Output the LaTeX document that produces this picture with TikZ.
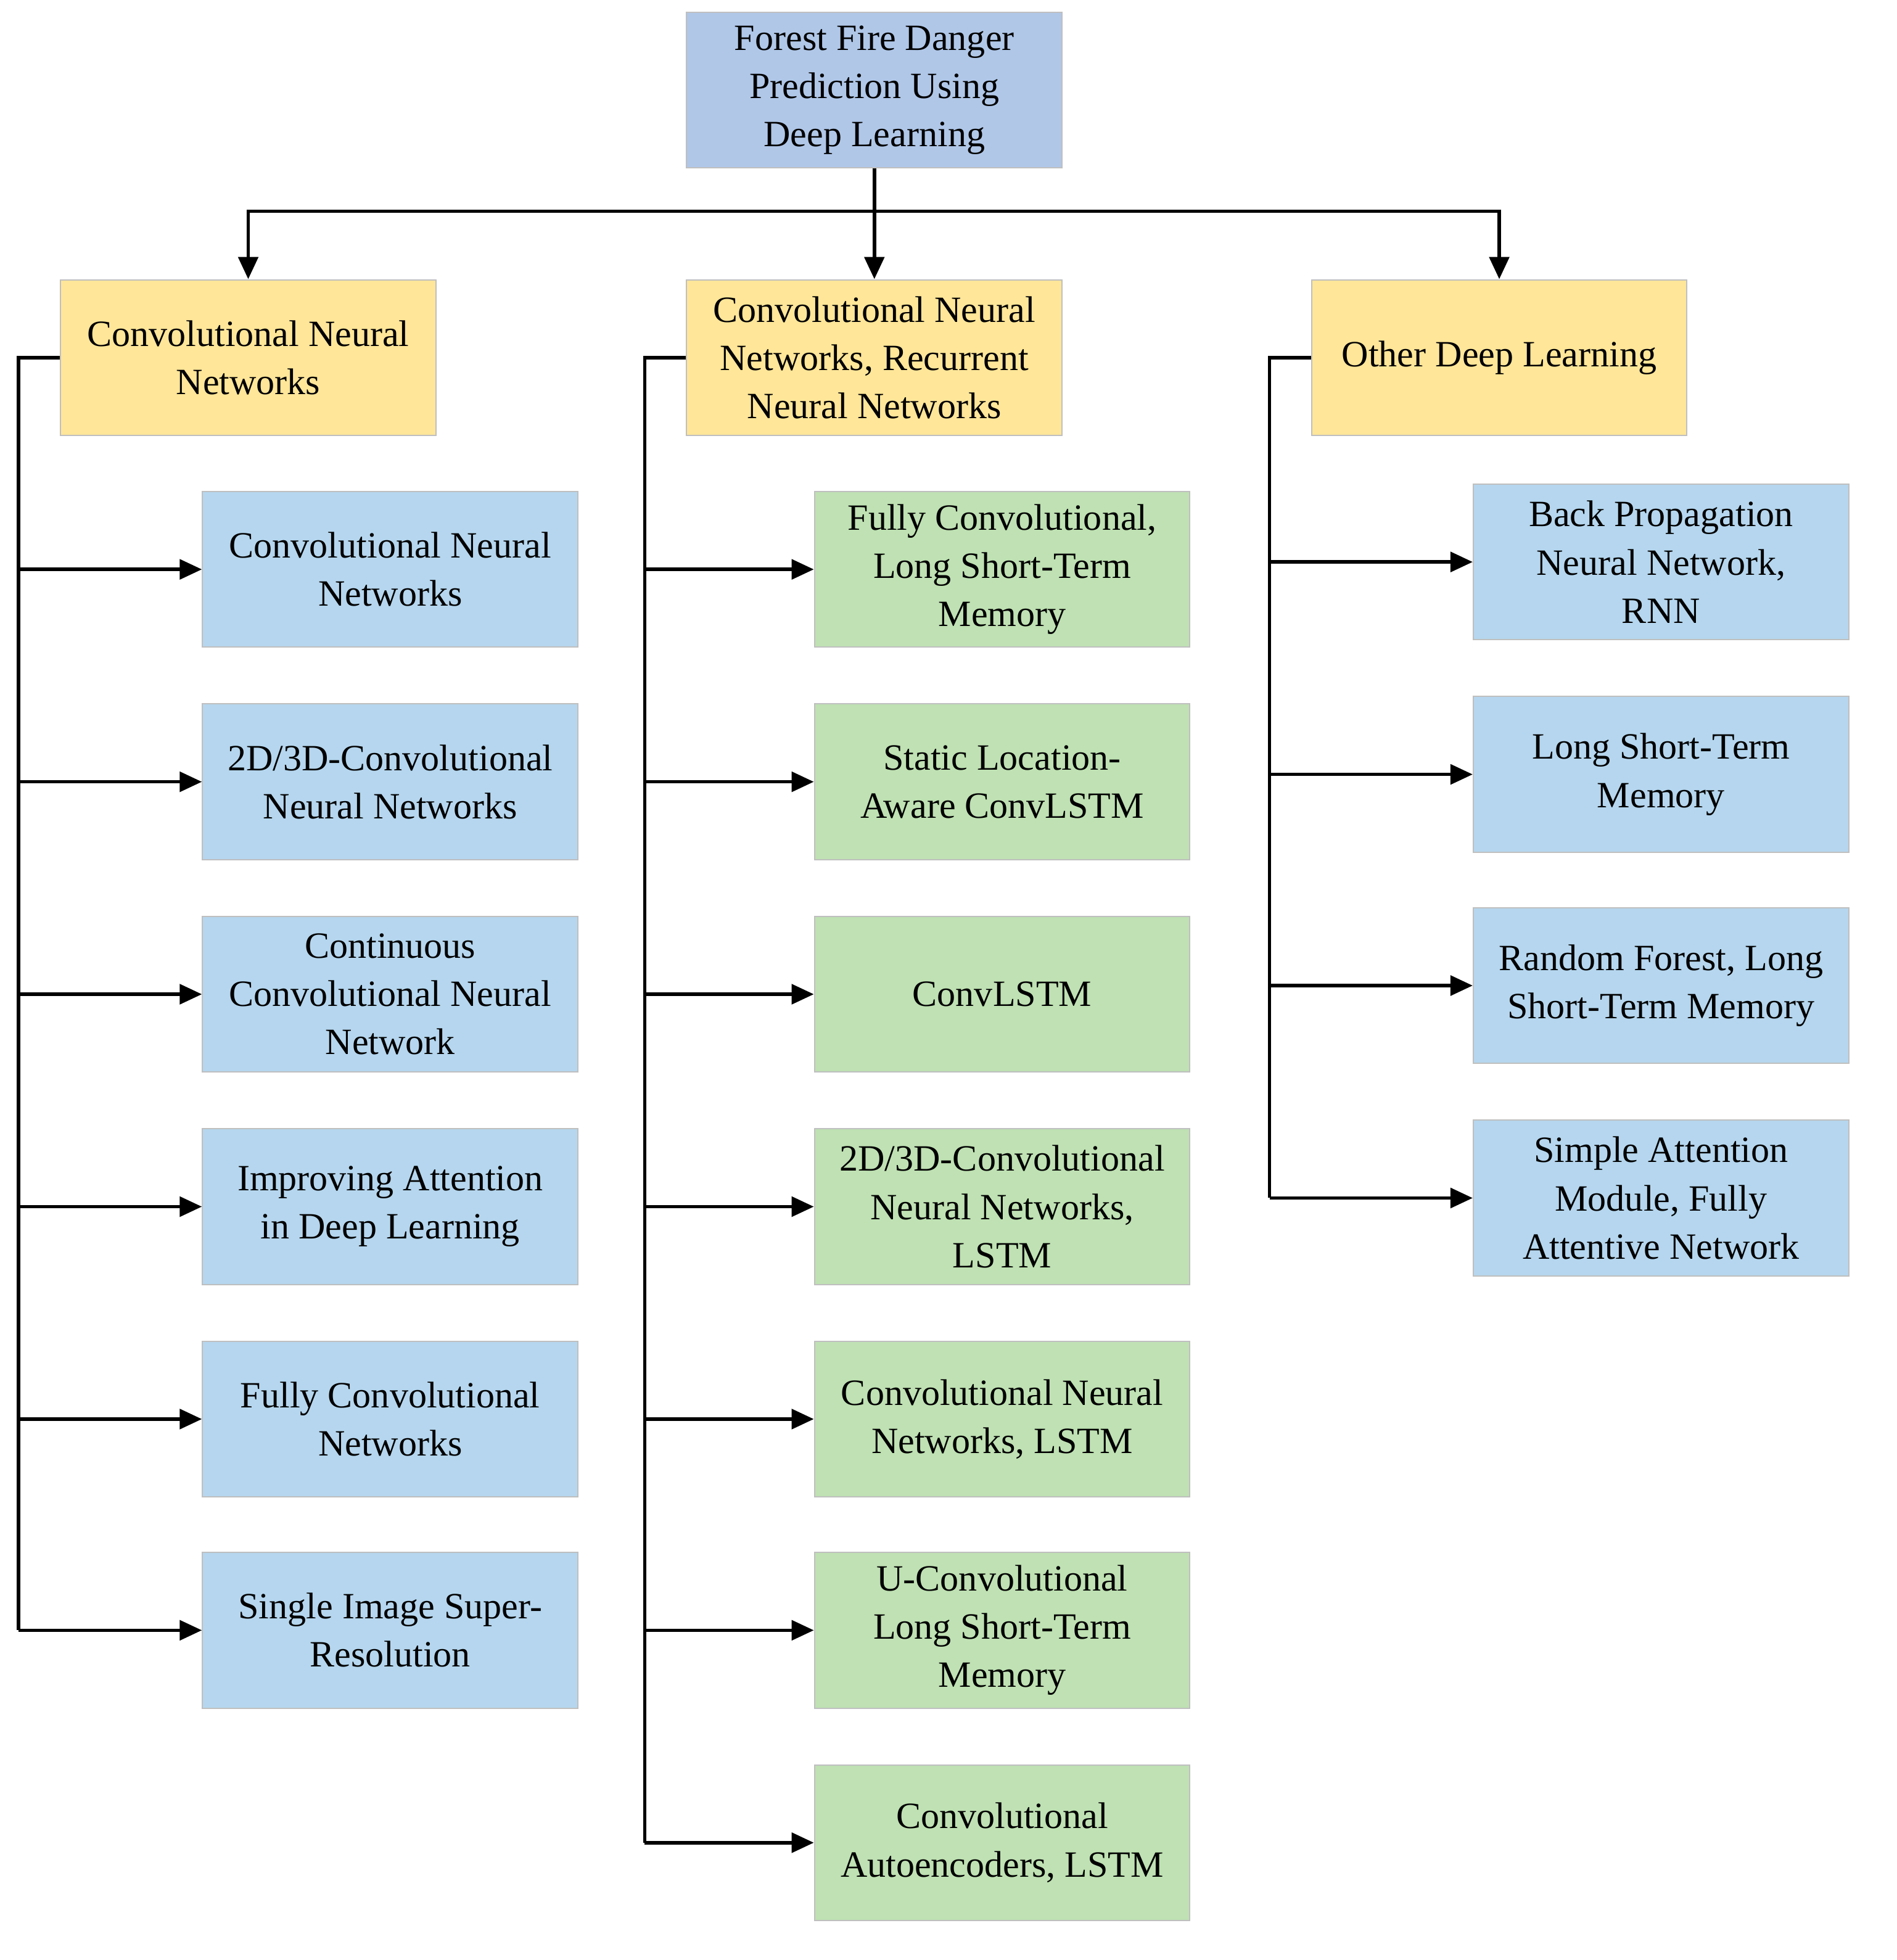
\documentclass[tikz,border=0pt]{standalone}
\usepackage{fontspec}
\setmainfont{Liberation Serif}
\usetikzlibrary{arrows.meta}
\definecolor{rootc}{HTML}{B0C7E8}
\definecolor{yel}{HTML}{FFE699}
\definecolor{lblue}{HTML}{B5D6EE}
\definecolor{grn}{HTML}{BFE1B3}
\begin{document}
\begin{tikzpicture}[x=0.5pt,y=-0.5pt,
 box/.style={draw=black!25,line width=0.5pt,minimum width=152pt,minimum height=63pt,inner sep=1pt,align=center,font=\fontsize{15}{19.5}\selectfont},
 conn/.style={line width=1.4pt,-{Triangle[length=9pt,width=8pt]}},
 ln/.style={line width=1.4pt}]
\useasboundingbox (0,0) rectangle (1536,1587);
\node[box,fill=rootc] (root) at (708,73) {Forest Fire Danger\\Prediction Using\\Deep Learning};
\node[box,fill=yel] (c1) at (201,289.5) {Convolutional Neural\\Networks};
\node[box,fill=yel] (c2) at (708,289.5) {Convolutional Neural\\Networks, Recurrent\\Neural Networks};
\node[box,fill=yel] (c3) at (1214,289.5) {Other Deep Learning};
\foreach \n/\y/\t in {a1/461/{Convolutional Neural\\Networks},a2/633/{2D/3D-Convolutional\\Neural Networks},a3/805/{Continuous\\Convolutional Neural\\Network},a4/977/{Improving Attention\\in Deep Learning},a5/1149/{Fully Convolutional\\Networks},a6/1320/{Single Image Super-\\Resolution}}{
 \node[box,fill=lblue] (\n) at (316,\y) {\t};
 \coordinate (\n b) at (15,\y);
}
\foreach \n/\y/\t in {b1/461/{Fully Convolutional,\\Long Short-Term\\Memory},b2/633/{Static Location-\\Aware ConvLSTM},b3/805/{ConvLSTM},b4/977/{2D/3D-Convolutional\\Neural Networks,\\LSTM},b5/1149/{Convolutional Neural\\Networks, LSTM},b6/1320/{U-Convolutional\\Long Short-Term\\Memory},b7/1492/{Convolutional\\Autoencoders, LSTM}}{
 \node[box,fill=grn] (\n) at (811.5,\y) {\t};
 \coordinate (\n b) at (522,\y);
}
\foreach \n/\y/\t in {d1/455/{Back Propagation\\Neural Network,\\RNN},d2/627/{Long Short-Term\\Memory},d3/798/{Random Forest, Long\\Short-Term Memory},d4/970/{Simple Attention\\Module, Fully\\Attentive Network}}{
 \node[box,fill=lblue] (\n) at (1345,\y) {\t};
 \coordinate (\n b) at (1028,\y);
}
\coordinate (j) at (708,171);
\draw[ln] (root.south) -- (j);
\draw[conn] (j) -| (c1.north);
\draw[conn] (j) -- (c2.north);
\draw[conn] (j) -| (c3.north);
\draw[ln] (c1.west) -| (a6b);
\draw[ln] (c2.west) -| (b7b);
\draw[ln] (c3.west) -| (d4b);
\foreach \n in {a1,a2,a3,a4,a5,a6,b1,b2,b3,b4,b5,b6,b7,d1,d2,d3,d4}{
 \draw[conn] (\n b) -- (\n.west);
}
\end{tikzpicture}
\end{document}
